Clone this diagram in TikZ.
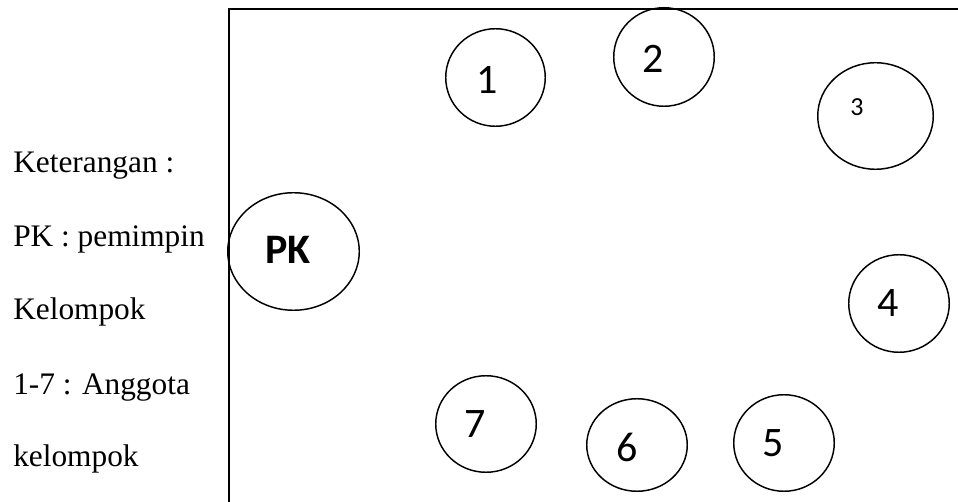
\documentclass[tikz,border=0pt]{standalone}
\usepackage{fontspec}
\usetikzlibrary{shapes.geometric}
\setmainfont{Liberation Serif}
\newfontfamily\legendfont{Liberation Serif}
\newfontfamily\seatfont{Carlito}
\begin{document}
\begin{tikzpicture}[x=0.75pt,y=-0.75pt,
  seat/.style 2 args={draw=black,line width=1.1pt,ellipse,inner sep=0pt,outer sep=0pt,
    minimum width=#1*0.75pt-1.1pt,minimum height=#2*0.75pt-1.1pt},
  num/.style={inner sep=0pt,font=\seatfont\fontsize{31.5}{31.5}\selectfont},
  smallnum/.style={inner sep=0pt,font=\seatfont\fontsize{19.5}{19.5}\selectfont},
  legend/.style={anchor=base west,inner sep=0pt,font=\legendfont\fontsize{23.5}{23.5}\selectfont},
  room/.style={draw=black,line width=1.5pt}]
\useasboundingbox (0,0) rectangle (958,502);

% room walls (left and top)
\coordinate (wallbottom) at (229,510);
\coordinate (corner) at (229,9);
\coordinate (wallright) at (965,9);
\draw[room] (wallbottom) -- (corner) -- (wallright);

% group leader
\node[seat={133}{119}] (pk) at (293.5,251.5) {};
\node[inner sep=0pt,font=\seatfont\bfseries\fontsize{31.5}{31.5}\selectfont] (pkt) at (288,250) {PK};

% members
\node[seat={101}{99}] (s1) at (495.5,77.5) {};
\node[num] (t1) at (487,80) {1};
\node[seat={102}{100}] (s2) at (664,57) {};
\node[num] (t2) at (653,59) {2};
\node[seat={117}{108}] (s3) at (875.5,116) {};
\node[smallnum] (t3) at (857,107) {3};
\node[seat={102}{99}] (s4) at (899,303.5) {};
\node[num] (t4) at (888,303) {4};
\node[seat={102}{98}] (s5) at (784,443) {};
\node[num] (t5) at (773,443) {5};
\node[seat={102}{94}] (s6) at (637,445) {};
\node[num] (t6) at (627,447) {6};
\node[seat={102}{98}] (s7) at (486,424) {};
\node[num] (t7) at (475,424) {7};

% legend
\node[legend] (l1) at (13,173) {Keterangan :};
\node[legend] (l2) at (13,247) {PK : pemimpin};
\node[legend] (l3) at (13,320) {Kelompok};
\node[legend] (l4) at (13,395) {1-7 : Anggota};
\node[legend] (l5) at (13,467) {kelompok};
\end{tikzpicture}
\end{document}
